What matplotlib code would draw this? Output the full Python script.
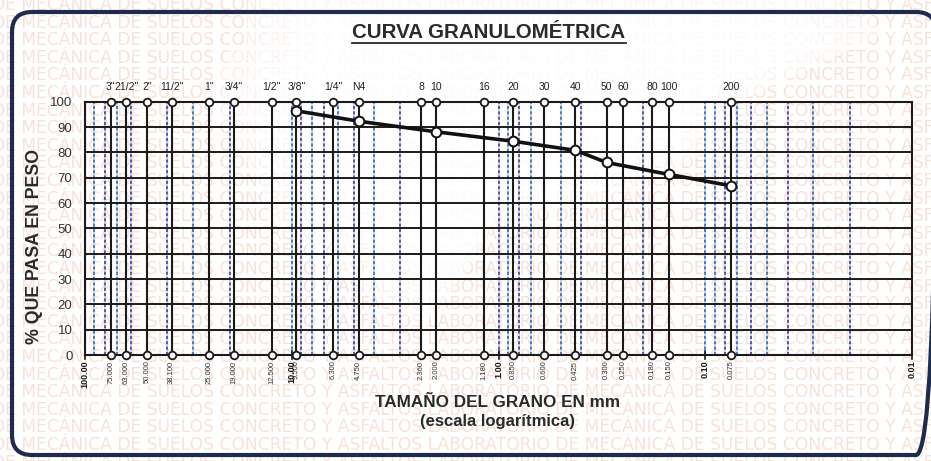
import numpy as np
import matplotlib
matplotlib.use("Agg")
import matplotlib.pyplot as plt
from matplotlib.patches import FancyBboxPatch, Polygon
from matplotlib.lines import Line2D

# Sieve series (top names) and openings in mm
sieve_names = ['3"', '21/2"', '2"', '11/2"', '1"', '3/4"', '1/2"', '3/8"', '1/4"', 'N4',
               '8', '10', '16', '20', '30', '40', '50', '60', '80', '100', '200']
sieve_mm = [75.0, 63.0, 50.0, 38.1, 25.0, 19.0, 12.5, 9.5, 6.3, 4.75,
            2.36, 2.0, 1.18, 0.85, 0.6, 0.425, 0.3, 0.25, 0.18, 0.15, 0.075]
sieve_mm_labels = ['75.000', '63.000', '50.000', '38.100', '25.000', '19.000', '12.500',
                   '9.500', '6.300', '4.750', '2.360', '2.000', '1.180', '0.850', '0.600',
                   '0.425', '0.300', '0.250', '0.180', '0.150', '0.075']
decade_mm = [100, 10, 1, 0.1, 0.01]
decade_labels = ['100.00', '10.00', '1.00', '0.10', '0.01']

# Grain size distribution of the sample
sample_mm = [9.5, 4.75, 2.0, 0.85, 0.425, 0.3, 0.15, 0.075]
passing_pct = [96.4, 92.3, 88.1, 84.4, 80.8, 76.0, 71.3, 66.8]

W, H = 931, 461
fig = plt.figure(figsize=(W / 100, H / 100), dpi=100)
fig.patch.set_facecolor('white')

# ---- background layer in pixel coordinates (watermark + frame) ----
bg = fig.add_axes([0, 0, 1, 1], zorder=0)
bg.set_xlim(0, W)
bg.set_ylim(H, 0)
bg.axis('off')

wm_text = ("DE MECÁNICA DE SUELOS CONCRETO Y ASFALTOS LABORATORIO "
           "DE MECÁNICA DE SUELOS CONCRETO Y ASFALTOS")
for yrow in np.arange(5, H + 10, 17.6):
    bg.text(-8, yrow, wm_text, fontsize=12.3, color='#eebba3', alpha=0.42,
            ha='left', va='center', family='DejaVu Sans', clip_on=True, zorder=1)

# faded (clean) area of the sheet around the title, softened towards its border
fade = np.array([(270, -5), (835, -5), (855, 40), (725, 100), (690, 150), (600, 190),
                 (500, 215), (455, 280), (430, 310), (360, 262), (300, 220),
                 (255, 130), (225, 95), (265, 45)], dtype=float)
centre = np.array([530.0, 90.0])
for scale in [1.08, 1.0, 0.9, 0.8]:
    pts = centre + (fade - centre) * scale
    bg.add_patch(Polygon(pts, closed=True, facecolor='white', edgecolor='none',
                         alpha=0.45, zorder=5))

frame = FancyBboxPatch((12, 12), 924, 443,
                       boxstyle="round,pad=0,rounding_size=20",
                       facecolor='none', edgecolor='#1f2b4d', linewidth=3, zorder=6)
bg.add_patch(frame)

# ---- title ----
title = fig.text(489 / W, 1 - 32 / H, 'CURVA GRANULOMÉTRICA', ha='center', va='center',
                 fontsize=14.8, fontweight='bold', color='#2a2a2a', family='Liberation Sans',
                 zorder=5)

# ---- main chart ----
ax = fig.add_axes([85 / W, 1 - 355 / H, (912 - 85) / W, (355 - 101.7) / H], zorder=2)
ax.patch.set_alpha(0)
ax.set_xscale('log')
ax.set_xlim(100, 0.01)
ax.set_ylim(0, 100)

# dashed logarithmic sub-divisions
k = 0
for d in [10, 1, 0.1, 0.01]:
    for m in range(1, 10):
        xv = m * d
        if xv >= 100 or xv <= 0.01:
            continue
        col = '#2f5fa8' if k % 2 == 0 else '#3b2f8f'
        ax.axvline(xv, color='#9cc3e6', lw=1.2, alpha=0.6, zorder=1)
        ax.axvline(xv, color=col, lw=1.1, ls=(0, (2, 1.5)), zorder=1.5)
        k += 1

# horizontal percentage lines
for yv in range(0, 101, 10):
    ax.axhline(yv, color='#1a1a1a', lw=1.4, zorder=2)

# sieve lines with end circles
for xv in sieve_mm:
    ax.plot([xv, xv], [0, 100], color='#1a1a1a', lw=1.5, zorder=3)
ax.plot(sieve_mm, [100] * len(sieve_mm), 'o', ms=5.5, mfc='white', mec='#1a1a1a',
        mew=1.3, zorder=6, clip_on=False, ls='none')
ax.plot(sieve_mm, [0] * len(sieve_mm), 'o', ms=5.5, mfc='white', mec='#1a1a1a',
        mew=1.3, zorder=6, clip_on=False, ls='none')

# grading curve
ax.plot(sample_mm, passing_pct, '-', color='#111111', lw=2.6, zorder=7)
ax.plot(sample_mm, passing_pct, 'o', ms=7, mfc='white', mec='#111111', mew=1.4,
        zorder=8, ls='none')

for s in ax.spines.values():
    s.set_color('#1a1a1a')
    s.set_linewidth(1.5)

ax.set_yticks(range(0, 101, 10))
ax.set_yticklabels([str(v) for v in range(0, 101, 10)], fontsize=9.5, color='#333333',
                   family='Liberation Sans')
ax.tick_params(axis='y', length=0, pad=9)
ax.set_xticks([])
ax.set_xticks([], minor=True)

# sieve names above the chart
for name, xv in zip(sieve_names, sieve_mm):
    ax.annotate(name, (xv, 100), xytext=(0, 7), textcoords='offset points',
                ha='center', va='bottom', fontsize=7.5, color='#222222',
                family='Liberation Sans', annotation_clip=False)

# openings below the chart
for lab, xv in zip(sieve_mm_labels, sieve_mm):
    ax.annotate(lab, (xv, 0), xytext=(0, -4), textcoords='offset points',
                ha='center', va='top', rotation=90, fontsize=5.5, color='#333333',
                family='Liberation Sans', annotation_clip=False)
for lab, xv in zip(decade_labels, decade_mm):
    ax.annotate(lab, (xv, 0), xytext=(0, -4), textcoords='offset points',
                ha='center', va='top', rotation=90, fontsize=6.5, fontweight='bold',
                color='#1a1a1a', family='Liberation Sans', annotation_clip=False)
    ax.plot([xv, xv], [-1.5, 1.5], color='#1a1a1a', lw=1.2, clip_on=False, zorder=4)

fig.text(35 / W, 1 - 246 / H, '% QUE PASA EN PESO', rotation=90, ha='center', va='center',
         fontsize=12.8, fontweight='bold', color='#2a2a2a', family='Liberation Sans')
fig.text(498 / W, 1 - 402 / H, 'TAMAÑO DEL GRANO EN mm', ha='center', va='center',
         fontsize=12.3, fontweight='bold', color='#2a2a2a', family='Liberation Sans')
fig.text(497 / W, 1 - 421 / H, '(escala logarítmica)', ha='center', va='center',
         fontsize=12, fontweight='bold', color='#2a2a2a', family='Liberation Sans')

# underline the title
fig.canvas.draw()
bb = title.get_window_extent()
x0, x1 = bb.x0 / W, bb.x1 / W
yl = (bb.y0 - 2) / H
fig.add_artist(Line2D([x0, x1], [yl, yl], transform=fig.transFigure, color='#2a2a2a',
                      lw=1.3))

fig.savefig('out.png', dpi=100, facecolor='white')
